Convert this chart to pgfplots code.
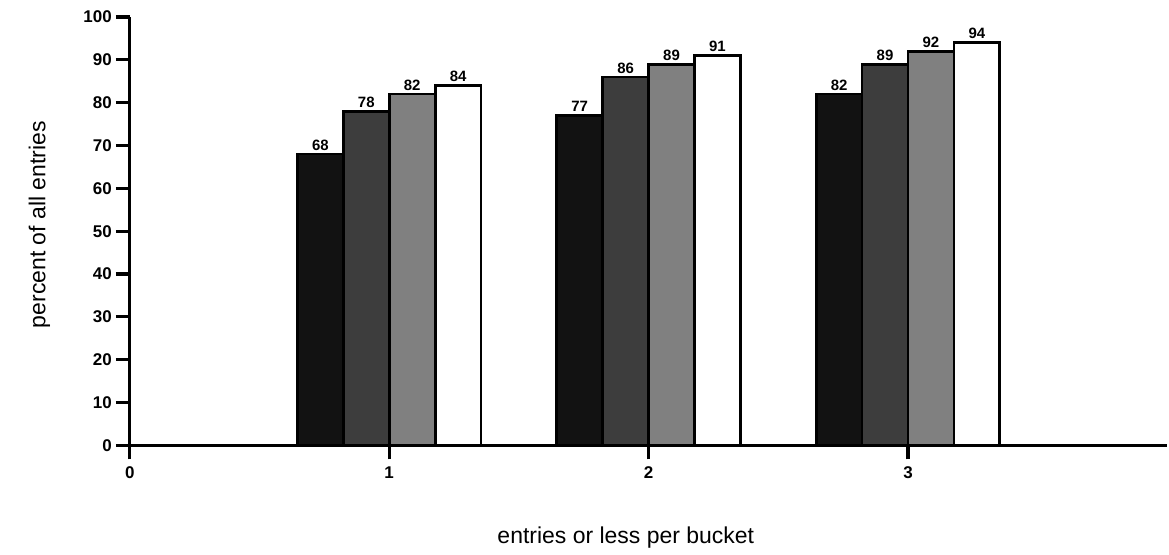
\documentclass[border=0pt]{standalone}
\usepackage{pgfplots}
\pgfplotsset{compat=1.18}
\usepackage{fontspec}
\setmainfont{Liberation Sans}
\begin{document}
\begin{tikzpicture}
\begin{axis}[
  at={(0,0)}, anchor=south west,
  scale only axis, width=519.5pt, height=214.5pt,
  xmin=0, xmax=4, ymin=0, ymax=100,
  axis x line*=bottom, axis y line*=left,
  axis line style={line width=1.6pt, -},
  xtick={0,1,2,3}, ytick={0,10,...,100},
  tick align=outside, major tick length=7pt,
  tick style={line width=1.6pt, black},
  /pgf/number format/assume math mode=true,
  ticklabel style={font=\fontsize{8.5}{10}\selectfont\bfseries},
  yticklabel style={xshift=1.5pt},
  xlabel={entries or less per bucket},
  ylabel={percent of all entries},
  label style={font=\fontsize{11.5}{14}\selectfont},
  xlabel style={at={(axis description cs:0.478,-0.214)}, anchor=center},
  ylabel style={at={(axis description cs:-0.087,0.515)}, anchor=center},
  ybar, bar width=0.177,
  every axis plot/.append style={draw=black, line width=1.4pt},
  nodes near coords,
  every node near coord/.append style={font=\fontsize{7.5}{9}\selectfont\bfseries, inner sep=1.2pt, black},
  clip=false,
]
\addplot[fill=black!93, bar shift=-0.2655] coordinates {(1,68) (2,77) (3,82)};
\addplot[fill=black!76, bar shift=-0.0885] coordinates {(1,78) (2,86) (3,89)};
\addplot[fill=black!50, bar shift=0.0885] coordinates {(1,82) (2,89) (3,92)};
\addplot[fill=white, bar shift=0.2655] coordinates {(1,84) (2,91) (3,94)};
\end{axis}
\path[use as bounding box] (-65pt,-53pt) rectangle (519.5pt,223pt);
\end{tikzpicture}
\end{document}
